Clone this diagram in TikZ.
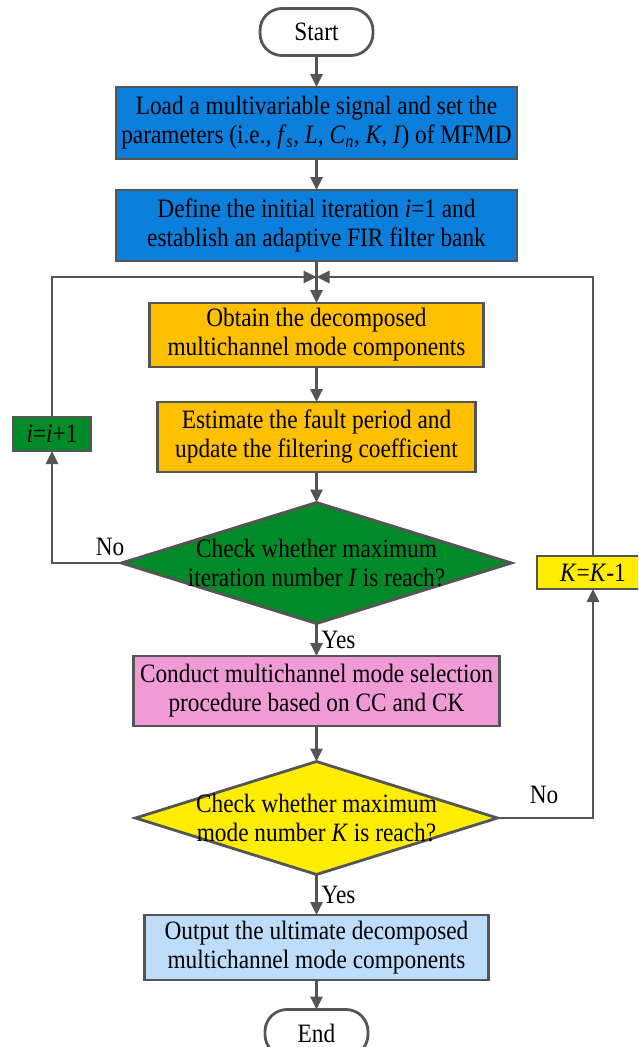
\documentclass[tikz,border=0pt]{standalone}
\usepackage{fontspec}
\setmainfont[FakeStretch=0.88]{Liberation Serif}
\usetikzlibrary{shapes.geometric,arrows.meta}
\definecolor{linegray}{HTML}{555555}
\definecolor{cblue}{HTML}{0B7FDB}
\definecolor{corange}{HTML}{FFC000}
\definecolor{cgreen}{HTML}{008A28}
\definecolor{cpink}{HTML}{F09BD6}
\definecolor{cyellow}{HTML}{FFED00}
\definecolor{clblue}{HTML}{BDDDFB}
\begin{document}
\begin{tikzpicture}[x=1pt,y=-1pt,
  every node/.style={font=\fontsize{26.5}{29}\selectfont, inner sep=0pt, outer sep=0pt},
  boxst/.style={draw=linegray, line width=2.8pt, rectangle, align=center},
  termst/.style={draw=linegray, line width=2.8pt, rectangle, rounded corners=22pt, fill=white},
  decst/.style={draw=linegray, line width=2.8pt, diamond},
  conn/.style={draw=linegray, line width=2.8pt, -{Triangle[length=13pt,width=12pt]}},
  lbl/.style={font=\fontsize{26.5}{29}\selectfont}]
\useasboundingbox (0,0) rectangle (638,1047);
\clip (0,0) rectangle (638,1047);
\fill[white] (0,0) rectangle (638,1047);

\node[termst, minimum width=113pt, minimum height=47pt] (start) at (316.5,32) {Start};
\node[boxst, fill=cblue, minimum width=401pt, minimum height=72pt] (b1) at (316.5,123)
  {Load a multivariable signal and set the\\parameters (i.e., \textit{f}\textsubscript{\textit{s}}, \textit{L}, \textit{C}\textsubscript{\textit{n}}, \textit{K}, \textit{I}) of MFMD};
\node[boxst, fill=cblue, minimum width=401pt, minimum height=71pt] (b2) at (316.5,225.5)
  {Define the initial iteration \textit{i}=1 and\\establish an adaptive FIR filter bank};
\coordinate (m) at (316.5,277);
\node[boxst, fill=corange, minimum width=334pt, minimum height=64pt] (b3) at (316.5,335)
  {Obtain the decomposed\\multichannel mode components};
\node[boxst, fill=corange, minimum width=318pt, minimum height=70pt] (b4) at (316.5,437)
  {Estimate the fault period and\\update the filtering coefficient};
\node[decst, fill=cgreen, minimum width=390pt, minimum height=121pt,
  label={[align=center]center:Check whether maximum\\iteration number \textit{I} is reach?}] (d1) at (316.5,563) {};
\node[boxst, fill=cgreen, minimum width=78pt, minimum height=34pt] (inc) at (52,434) {\textit{i}=\textit{i}+1};
\node[boxst, fill=cpink, minimum width=366pt, minimum height=70pt] (b5) at (316.5,691)
  {Conduct multichannel mode selection\\procedure based on CC and CK};
\node[decst, fill=cyellow, minimum width=362pt, minimum height=113pt,
  label={[align=center]center:Check whether maximum\\mode number \textit{K} is reach?}] (d2) at (316.5,818) {};
\node[boxst, fill=cyellow, minimum width=112pt, minimum height=33pt] (dec) at (593,572.5) {\textit{K}=\textit{K}-1};
\node[boxst, fill=clblue, minimum width=344pt, minimum height=65pt] (b6) at (316.5,947.5)
  {Output the ultimate decomposed\\multichannel mode components};
\node[termst, minimum width=103pt, minimum height=47pt] (end) at (316.5,1033) {End};

\draw[conn] (start) -- (b1);
\draw[conn] (b1) -- (b2);
\draw[conn] (b2) -- (b3);
\draw[conn] (b3) -- (b4);
\draw[conn] (b4) -- (d1.north);
\draw[conn] (d1.south) -- node[lbl, anchor=west, xshift=5pt] {Yes} (b5);
\draw[conn] (b5) -- (d2.north);
\draw[conn] (d2.south) -- node[lbl, anchor=west, xshift=5pt] {Yes} (b6);
\draw[conn] (b6) -- (end);
\draw[conn] (d1.west) -- (inc.south |- d1.west) -- (inc.south);
\draw[conn] (inc.north) -- (inc.north |- m) -- (m);
\draw[conn] (d2.east) -- (dec.south |- d2.east) -- (dec.south);
\draw[conn] (dec.north) -- (dec.north |- m) -- (m);
\node[lbl] (nol) at (110,547) {No};
\node[lbl] (nor) at (544,795) {No};
\end{tikzpicture}
\end{document}
